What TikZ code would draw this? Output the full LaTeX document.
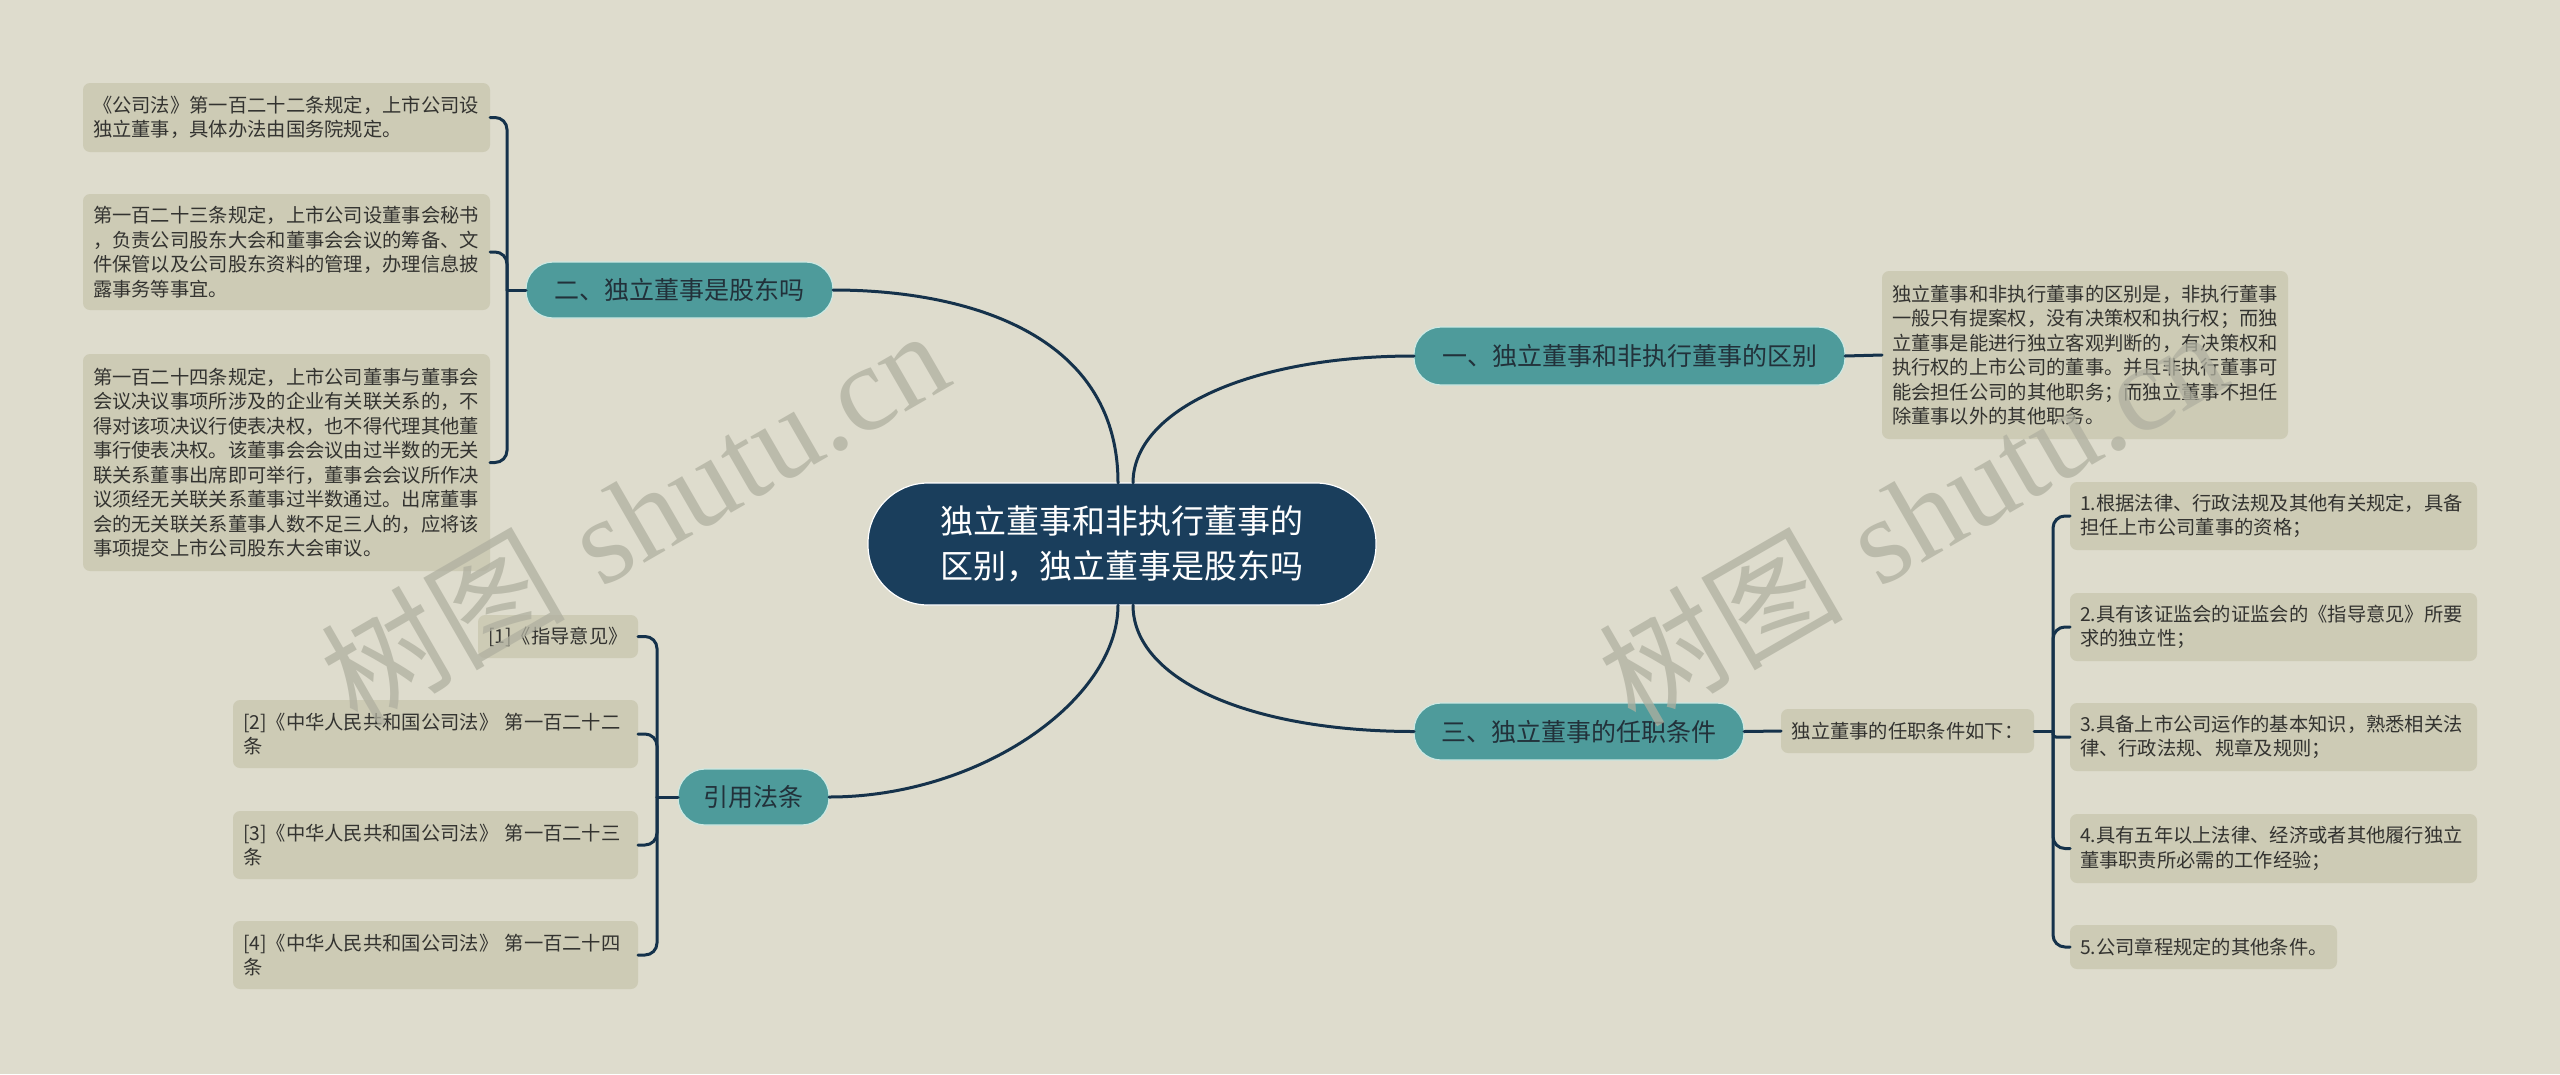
\documentclass[tikz,border=0pt]{standalone}
\usepackage{fontspec}
\newfontfamily\cjk{Noto Sans CJK SC}
\newfontfamily\wmserif{Liberation Serif}
\definecolor{bg}{HTML}{DEDCCD}
\definecolor{leafc}{HTML}{CDCBB5}
\definecolor{tealc}{HTML}{4E9B9B}
\definecolor{tealb}{HTML}{CDE8E2}
\definecolor{rootc}{HTML}{1A3E5C}
\definecolor{linec}{HTML}{15324B}
\definecolor{txt}{HTML}{333330}
\definecolor{topictxt}{HTML}{22313A}
\definecolor{wmc}{HTML}{B0B0A0}
\tikzset{
  conn/.style={draw=linec, line width=3pt, line cap=round},
  leaf/.style={fill=leafc, rounded corners=7pt, inner xsep=10pt, inner ysep=0pt, outer sep=0pt,
    anchor=north west, align=left, text=txt, font=\cjk\fontsize{19.3}{24.5}\selectfont},
  leafc1/.style={fill=leafc, rounded corners=7pt, inner sep=0pt, outer sep=0pt,
    anchor=north west, align=center, text=txt, font=\cjk\fontsize{19.3}{24.5}\selectfont},
  topic/.style={fill=tealc, draw=tealb, line width=1.2pt, rounded corners=27pt, inner sep=0pt,
    outer sep=0pt, anchor=north west, text=topictxt, font=\cjk\fontsize{25}{30}\selectfont},
  root/.style={fill=rootc, draw=white, line width=1.2pt, rounded corners=60pt, inner sep=0pt,
    outer sep=0pt, align=center, text=white, font=\cjk\fontsize{33}{45}\selectfont},
  wm/.style={text=wmc, opacity=0.75, inner sep=0pt, font=\fontsize{122}{122}\selectfont}
}
\begin{document}
\begin{tikzpicture}[x=1pt,y=-1pt]
\fill[bg] (0,0) rectangle (2560,1074);
\useasboundingbox (0,0) rectangle (2560,1074);

% root and main topics
\node[root, minimum width=508, minimum height=122] (ctr) at (1122,544) {独立董事和非执行董事的\\区别，独立董事是股东吗};
\node[topic, minimum width=307, minimum height=56] (two) at (526,262) {二、独立董事是股东吗};
\node[topic, minimum width=431, minimum height=58] (one) at (1414,327) {一、独立董事和非执行董事的区别};
\node[topic, minimum width=330, minimum height=57] (three) at (1414,703) {三、独立董事的任职条件};
\node[topic, minimum width=151, minimum height=56] (cite) at (678,769) {引用法条};

% left leaves
\node[leaf, text width=387, minimum height=69] (l1) at (83,83) {《公司法》第一百二十二条规定，上市公司设\\独立董事，具体办法由国务院规定。};
\node[leaf, text width=387, minimum height=116] (l2) at (83,194) {第一百二十三条规定，上市公司设董事会秘书\\，负责公司股东大会和董事会会议的筹备、文\\件保管以及公司股东资料的管理，办理信息披\\露事务等事宜。};
\node[leaf, text width=387, minimum height=217] (l3) at (83,354) {第一百二十四条规定，上市公司董事与董事会\\会议决议事项所涉及的企业有关联关系的，不\\得对该项决议行使表决权，也不得代理其他董\\事行使表决权。该董事会会议由过半数的无关\\联关系董事出席即可举行，董事会会议所作决\\议须经无关联关系董事过半数通过。出席董事\\会的无关联关系董事人数不足三人的，应将该\\事项提交上市公司股东大会审议。};

% citations
\node[leafc1, minimum width=160, minimum height=43] (c1) at (478,615) {[1]《指导意见》};
\node[leaf, text width=385, minimum height=68] (c2) at (233,700) {[2]《中华人民共和国公司法》 第一百二十二\\条};
\node[leaf, text width=385, minimum height=68] (c3) at (233,811) {[3]《中华人民共和国公司法》 第一百二十三\\条};
\node[leaf, text width=385, minimum height=68] (c4) at (233,921) {[4]《中华人民共和国公司法》 第一百二十四\\条};

% right side
\node[leaf, text width=386, minimum height=168] (r1) at (1882,271) {独立董事和非执行董事的区别是，非执行董事\\一般只有提案权，没有决策权和执行权；而独\\立董事是能进行独立客观判断的，有决策权和\\执行权的上市公司的董事。并且非执行董事可\\能会担任公司的其他职务；而独立董事不担任\\除董事以外的其他职务。};
\node[leafc1, minimum width=253, minimum height=44] (ru) at (1781,709) {独立董事的任职条件如下：};
\node[leaf, text width=387, minimum height=68] (rr1) at (2070,482) {1.根据法律、行政法规及其他有关规定，具备\\担任上市公司董事的资格；};
\node[leaf, text width=387, minimum height=68] (rr2) at (2070,593) {2.具有该证监会的证监会的《指导意见》所要\\求的独立性；};
\node[leaf, text width=387, minimum height=68] (rr3) at (2070,703) {3.具备上市公司运作的基本知识，熟悉相关法\\律、行政法规、规章及规则；};
\node[leaf, text width=387, minimum height=69] (rr4) at (2070,814) {4.具有五年以上法律、经济或者其他履行独立\\董事职责所必需的工作经验；};
\node[leaf, text width=247, minimum height=44] (rr5) at (2070,925) {5.公司章程规定的其他条件。};

% main connectors
\draw[conn] ([xshift=-4pt]ctr.north) .. controls +(0,-153) and +(127,0) .. (two.east);
\draw[conn] ([xshift=11pt]ctr.north) .. controls +(0,-73) and +(-164,0) .. (one.west);
\draw[conn] ([xshift=-4pt]ctr.south) .. controls +(0,95) and +(151,0) .. (cite.east);
\draw[conn] ([xshift=11pt]ctr.south) .. controls +(0,75) and +(-164,0) .. (three.west);

% left bracket
\coordinate (J2) at ([xshift=-19pt]two.west);
\draw[conn] (two.west) -- (J2);
\foreach \n in {l1,l2,l3} \draw[conn, rounded corners=12pt] (J2) |- (\n.east);

% citation bracket
\coordinate (J3) at ([xshift=-21pt]cite.west);
\draw[conn] (cite.west) -- (J3);
\foreach \n in {c1,c2,c3,c4} \draw[conn, rounded corners=12pt] (J3) |- (\n.east);

% right connectors
\draw[conn] (one.east) -- (r1.west);
\draw[conn] (three.east) -- (ru.west);
\coordinate (J4) at ([xshift=19pt]ru.east);
\draw[conn] (ru.east) -- (J4);
\foreach \n in {rr1,rr2,rr4,rr5} \draw[conn, rounded corners=12pt] (J4) |- (\n.west);
\draw[conn, rounded corners=3pt] (J4) |- (rr3.west);

% watermarks
\node[wm, rotate=30, anchor=base] (wm1) at (657,556) {{\cjk 树图} {\wmserif shutu.cn}};
\node[wm, rotate=30, anchor=base] (wm2) at (1935,556) {{\cjk 树图} {\wmserif shutu.cn}};
\end{tikzpicture}
\end{document}
